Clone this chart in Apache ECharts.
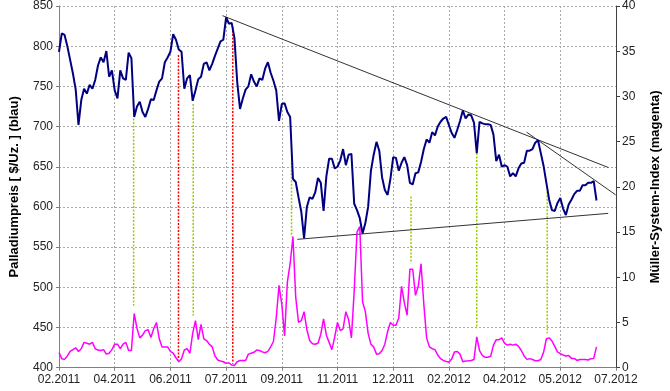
<!DOCTYPE html>
<html>
<head>
<meta charset="utf-8">
<script src="https://cdn.jsdelivr.net/npm/echarts@6/dist/echarts.min.js"></script>
<style>html,body{margin:0;padding:0;background:#fff;}#c{width:670px;height:391px;}</style>
</head>
<body>
<div id="c"></div>
<script>
const xLabels = ['02.2011','04.2011','06.2011','07.2011','09.2011','11.2011','12.2011','02.2012','04.2012','05.2012','07.2012'];
const pointsPerLabel = 20;
const leftTicks = [400, 850, 50];
const rightTicks = [0, 40, 5];

const price = [
793,816,814,800,783,766,746,702,733,747,
741,752,747,758,776,786,780,794,762,770,
745,735,770,760,758,792,785,712,725,731,
718,712,722,734,733,745,756,760,780,786,
793,815,808,796,793,747,760,764,732,745,
759,762,778,780,770,778,788,797,806,808,
836,828,829,810,755,722,735,746,750,765,
756,750,760,758,772,780,767,757,745,707,
728,729,718,712,635,631,612,594,561,600,
612,610,618,636,630,595,638,660,660,648,
650,658,672,652,665,666,604,596,586,567,
580,600,645,665,681,670,637,621,615,635,
662,661,645,655,662,652,630,628,642,643,
656,672,684,680,693,689,700,706,710,712,
702,692,686,696,707,720,710,715,714,705,
667,706,704,703,703,702,690,657,665,650,
652,650,638,642,638,648,654,655,670,670,
672,680,683,667,651,630,609,596,595,605,
611,598,590,603,609,616,620,620,627,627,
630,630,632,608
];

const msi = [
1.66,1.0,0.92,1.3,1.8,2.0,2.2,1.8,2.1,2.8,
2.7,2.6,2.8,2.1,1.95,1.9,2.0,1.5,1.6,2.0,
2.6,2.6,2.1,2.6,2.8,1.9,1.9,6.0,4.35,3.3,
3.6,4.1,4.2,3.35,4.3,5.0,3.2,2.3,2.3,2.3,
1.8,1.6,1.1,0.66,1.0,1.96,2.1,1.6,3.8,5.2,
3.1,4.8,3.2,3.0,2.6,2.3,1.3,0.85,0.75,0.66,
0.48,0.55,0.3,0.25,0.66,0.8,0.8,0.8,1.5,1.6,
1.7,1.96,1.9,1.75,1.65,1.8,2.3,2.9,5.5,9.1,
7.0,3.5,9.5,11.5,14.5,7.8,5.0,5.2,6.2,4.2,
3.0,2.65,2.6,2.7,3.7,5.4,3.6,2.8,2.0,3.4,
5.0,4.1,4.3,6.2,5.3,3.3,8.5,15.0,15.6,7.3,
6.2,3.8,2.6,2.3,1.5,1.55,1.9,2.6,4.0,5.0,
4.7,4.7,5.5,9.0,7.2,5.8,10.9,10.9,8.0,9.0,
11.5,7.0,3.3,2.3,2.1,2.0,1.4,1.0,0.8,0.7,
0.6,0.95,1.75,1.8,1.5,0.66,0.75,0.77,0.8,0.9,
3.4,1.9,1.35,1.15,1.15,1.25,2.5,3.1,3.1,3.3,
2.7,2.5,2.6,2.5,2.6,2.35,1.9,1.3,0.92,1.0,
0.9,0.77,0.77,0.9,1.7,3.2,3.3,2.95,2.35,1.75,
1.55,1.4,1.3,1.35,1.03,1.03,0.8,0.9,0.92,0.9,
0.85,1.0,1.03,2.3
];

// trend lines: [startIndex, startPrice, endIndex, endPrice]
const trendLines = [
  [58.7, 838, 197.3, 649],
  [167.9, 693, 199.9, 615],
  [85.6, 559.7, 197.2, 592]
];
// vertical markers: [index, topPrice, bottomPrice]
const greenMarkers = [
  [26.8, 710, 477], [48.2, 728, 465], [83.5, 655, 563],
  [126.4, 613, 530], [150, 667, 449], [175.3, 619, 443]
];
const redMarkers = [
  [42.9, 789, 410], [62.4, 824, 405]
];

const xMax = (xLabels.length - 1) * pointsPerLabel;
const font = 'Liberation Sans, Arial, sans-serif';

const series = [];
trendLines.forEach(t => series.push({
  type: 'line', data: [[t[0], t[1]], [t[2], t[3]]], symbol: 'none', silent: true,
  lineStyle: { color: '#333', width: 1 }, z: 3
}));
greenMarkers.forEach(m => series.push({
  type: 'line', data: [[m[0], m[1]], [m[0], m[2]]], symbol: 'none', silent: true,
  lineStyle: { color: '#99cc00', width: 1.5, type: [2, 1.5] }, z: 2
}));
redMarkers.forEach(m => series.push({
  type: 'line', data: [[m[0], m[1]], [m[0], m[2]]], symbol: 'none', silent: true,
  lineStyle: { color: '#ff0000', width: 1.5, type: [2, 1.5] }, z: 2
}));
series.push({
  type: 'line', yAxisIndex: 1, data: msi.map((v, i) => [i, v]), symbol: 'none',
  lineStyle: { color: '#ff00ff', width: 1.5 }, z: 4
});
series.push({
  type: 'line', yAxisIndex: 0, data: price.map((v, i) => [i, v]), symbol: 'none',
  lineStyle: { color: '#000080', width: 2 }, z: 5
});

const chart = echarts.init(document.getElementById('c'), null, { renderer: 'canvas' });
chart.setOption({
  animation: false,
  backgroundColor: '#fff',
  grid: { left: 53, right: 48, top: 6, bottom: 23.3, containLabel: false },
  xAxis: {
    type: 'value', min: 0, max: xMax, interval: pointsPerLabel,
    axisLine: { show: true, lineStyle: { color: '#808080', width: 1 } },
    axisTick: { show: true, length: 3, lineStyle: { color: '#808080' } },
    axisLabel: {
      color: '#222', fontFamily: font, fontSize: 12, margin: 6,
      formatter: v => xLabels[Math.round(v / pointsPerLabel)] || ''
    },
    splitLine: { show: true, lineStyle: { color: '#a8a8a8', type: [2, 2], width: 1 } }
  },
  yAxis: [
    {
      type: 'value', min: leftTicks[0], max: leftTicks[1], interval: leftTicks[2],
      name: 'Palladiumpreis [ $/Uz. ] (blau)', nameLocation: 'middle', nameGap: 38,
      nameTextStyle: { fontFamily: font, fontSize: 13, fontWeight: 'bold', color: '#000' },
      axisLine: { show: true, lineStyle: { color: '#808080', width: 1 } },
      axisTick: { show: true, length: 3, lineStyle: { color: '#808080' } },
      axisLabel: { color: '#222', fontFamily: font, fontSize: 12, margin: 6 },
      splitLine: { show: true, lineStyle: { color: '#a8a8a8', type: [2, 2], width: 1 } }
    },
    {
      type: 'value', min: rightTicks[0], max: rightTicks[1], interval: rightTicks[2],
      position: 'right',
      name: 'Müller-System-Index (magenta)', nameLocation: 'middle', nameGap: 33,
      nameTextStyle: { fontFamily: font, fontSize: 13, fontWeight: 'bold', color: '#000' },
      axisLine: { show: true, lineStyle: { color: '#404040', width: 1 } },
      axisTick: { show: true, length: 4, lineStyle: { color: '#404040' } },
      axisLabel: { color: '#222', fontFamily: font, fontSize: 12, margin: 6 },
      splitLine: { show: false }
    }
  ],
  series: series
});
</script>
</body>
</html>
